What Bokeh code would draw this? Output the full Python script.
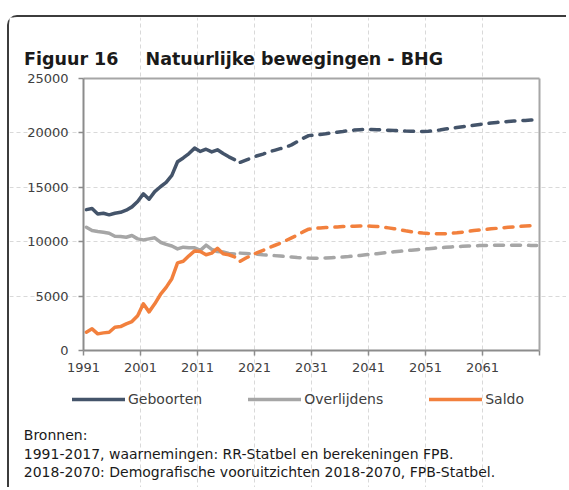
from bokeh.plotting import figure
from bokeh.models import (Range1d, FixedTicker, Legend, LegendItem, Label,
                          LinearAxis, Grid)
from bokeh.embed import file_html
from bokeh.resources import INLINE

# ---------------- data ----------------
years_obs = list(range(1991, 2018))
years_proj = list(range(2018, 2071))

geboorten_obs = [12950, 13050, 12550, 12620, 12470, 12620, 12700, 12900, 13200, 13700,
                 14400, 13900, 14600, 15050, 15450, 16100, 17350, 17700, 18100, 18600,
                 18300, 18500, 18250, 18450, 18100, 17800, 17550]
overlijdens_obs = [11330, 11030, 10940, 10870, 10780, 10500, 10480, 10410, 10570, 10260,
                   10170, 10260, 10360, 9950, 9750, 9600, 9340, 9500, 9450, 9440,
                   9200, 9680, 9300, 9100, 9050, 8920, 8880]
saldo_obs = [1680, 1990, 1530, 1620, 1680, 2140, 2200, 2450, 2660, 3200,
             4290, 3550, 4290, 5150, 5800, 6600, 8050, 8200, 8700, 9150,
             9100, 8800, 8950, 9400, 8900, 8800, 8600]

geboorten_proj = [17300, 17500, 17700, 17900, 18050, 18250, 18400, 18550, 18700, 18900,
                  19200, 19500, 19750, 19800, 19850, 19920, 20000, 20070, 20130, 20200,
                  20260, 20300, 20320, 20320, 20300, 20280, 20250, 20220, 20200, 20170,
                  20150, 20130, 20130, 20150, 20200, 20270, 20350, 20430, 20500, 20570,
                  20640, 20710, 20780, 20850, 20910, 20960, 21010, 21050, 21090, 21120,
                  21150, 21180, 21200]
overlijdens_proj = [8950, 8920, 8880, 8850, 8800, 8760, 8720, 8680, 8630, 8590,
                    8550, 8520, 8500, 8490, 8490, 8500, 8530, 8560, 8600, 8640,
                    8690, 8740, 8800, 8850, 8900, 8960, 9020, 9070, 9120, 9170,
                    9220, 9270, 9320, 9360, 9400, 9440, 9480, 9520, 9550, 9580,
                    9600, 9620, 9640, 9650, 9660, 9670, 9680, 9680, 9680, 9680,
                    9670, 9660, 9650]
saldo_proj = [8200, 8500, 8750, 9000, 9200, 9450, 9650, 9850, 10100, 10350,
              10600, 10900, 11150, 11220, 11270, 11300, 11330, 11360, 11390, 11410,
              11430, 11440, 11440, 11430, 11400, 11340, 11270, 11190, 11100, 11000,
              10920, 10850, 10800, 10760, 10740, 10730, 10740, 10770, 10820, 10880,
              10950, 11020, 11080, 11130, 11180, 11230, 11280, 11320, 11360, 11400,
              11440, 11470, 11500]

series_names = ["Geboorten", "Overlijdens", "Saldo"]
y_ticks = [0, 5000, 10000, 15000, 20000, 25000]
x_ticks = [1991, 2001, 2011, 2021, 2031, 2041, 2051, 2061, 2071]

title_num = "Figuur 16"
title_text = "Natuurlijke bewegingen - BHG"
source_lines = ["Bronnen:",
                "1991-2017, waarnemingen: RR-Statbel en berekeningen FPB.",
                "2018-2070: Demografische vooruitzichten 2018-2070, FPB-Statbel."]

# ---------------- geometry / styling ----------------
FONT = "DejaVu Sans"
C_BLUE = "#44546a"
C_GRAY = "#a6a6a6"
C_ORANGE = "#f2803d"
TXT = "#404040"

XMIN, XMAX, YMIN, YMAX = 1991, 2071, 0, 25000
# page pixels of the plotting area (axes box) and of the canvas
AX0, AX1, AY0, AY1 = 83, 539, 78, 350
CX0, CY0, CW, CH = 9, 17, 559, 472


def dx(px):
    return XMIN + (px - AX0) * (XMAX - XMIN) / (AX1 - AX0)


def dy(py):
    return YMIN + (AY1 - py) * (YMAX - YMIN) / (AY1 - AY0)


p = figure(output_backend="svg", toolbar_location=None,
           width=CW, height=CH, min_border=0,
           x_axis_type=None, y_axis_type=None,
           x_range=Range1d(dx(CX0), dx(CX0 + CW)),
           y_range=Range1d(dy(CY0 + CH), dy(CY0)))
p.styles = {"border-top": "2px solid #3c3c3c", "border-left": "2px solid #3c3c3c",
            "border-top-left-radius": "10px", "margin-top": "15px", "margin-left": "7px"}
p.border_fill_color = None
p.background_fill_color = "white"
p.outline_line_color = None
p.xgrid.visible = False
p.ygrid.visible = False

# grids (dashed) limited to the axes box
p.add_layout(Grid(dimension=0, ticker=FixedTicker(ticks=x_ticks[1:-1]), bounds=(YMIN, YMAX),
                  grid_line_color="#d9d9d9", grid_line_width=1, grid_line_dash="4 3"))
p.add_layout(Grid(dimension=1, ticker=FixedTicker(ticks=y_ticks[1:-1]), bounds=(XMIN, XMAX),
                  grid_line_color="#d9d9d9", grid_line_width=1, grid_line_dash="4 3"))

# top and right frame lines
top = LinearAxis(fixed_location=YMAX, bounds=(XMIN, XMAX), ticker=FixedTicker(ticks=[]),
                 axis_line_color="#a6a6a6", axis_line_width=2, major_tick_line_color=None,
                 minor_tick_line_color=None, major_label_text_font_size="0px")
right = LinearAxis(fixed_location=XMAX, bounds=(YMIN, YMAX), ticker=FixedTicker(ticks=[]),
                   axis_line_color="#a6a6a6", axis_line_width=2, major_tick_line_color=None,
                   minor_tick_line_color=None, major_label_text_font_size="0px")
p.add_layout(top, "above")
p.add_layout(right, "right")


def style_axis(ax):
    ax.axis_line_color = "#8c8c8c"
    ax.axis_line_width = 2
    ax.major_tick_line_color = "#8c8c8c"
    ax.major_tick_line_width = 1.5
    ax.major_tick_out = 5
    ax.major_tick_in = 0
    ax.minor_tick_line_color = None
    ax.major_label_text_font = FONT
    ax.major_label_text_font_size = "13px"
    ax.major_label_text_color = TXT


xaxis = LinearAxis(fixed_location=YMIN, bounds=(XMIN, XMAX), ticker=FixedTicker(ticks=x_ticks),
                   major_label_overrides={2071: ""}, major_label_standoff=7)
yaxis = LinearAxis(fixed_location=XMIN, bounds=(YMIN, YMAX), ticker=FixedTicker(ticks=y_ticks),
                   major_label_standoff=10)
style_axis(xaxis)
style_axis(yaxis)
p.add_layout(xaxis, "below")
p.add_layout(yaxis, "left")

x_obs = [y + 0.5 for y in years_obs]
x_proj = [y + 0.5 for y in years_proj]

items = []
for name, obs, proj, col in zip(series_names,
                                [geboorten_obs, overlijdens_obs, saldo_obs],
                                [geboorten_proj, overlijdens_proj, saldo_proj],
                                [C_BLUE, C_GRAY, C_ORANGE]):
    r = p.line(x_obs, obs, line_color=col, line_width=3.5, line_join="round", line_cap="round")
    p.line(x_proj, proj, line_color=col, line_width=3.5, line_dash="9 8", line_cap="round")
    items.append(LegendItem(label=name, renderers=[r]))

legend = Legend(items=items, orientation="horizontal",
                location=(72 - CX0, (CY0 + CH) - 409),
                glyph_width=53, glyph_height=20, label_height=20, label_standoff=3,
                spacing=46, padding=0, margin=0,
                border_line_color=None, background_fill_alpha=0,
                label_text_font=FONT, label_text_font_size="14px", label_text_color=TXT)
p.add_layout(legend)

p.add_layout(Label(x=dx(23.5), y=dy(58), text=title_num, text_font=FONT,
                   text_font_size="17.5px", text_font_style="bold", text_color="#1a1a1a",
                   text_baseline="alphabetic"))
p.add_layout(Label(x=dx(145), y=dy(58), text=title_text, text_font=FONT,
                   text_font_size="17.5px", text_font_style="bold", text_color="#1a1a1a",
                   text_baseline="alphabetic"))

for line, base in zip(source_lines, [434.5, 453, 471.5]):
    p.add_layout(Label(x=dx(23.3), y=dy(base), text=line, text_font=FONT,
                       text_font_size="14px", text_color="#1a1a1a",
                       text_baseline="alphabetic"))

open("out.html", "w").write(file_html(p, INLINE))
